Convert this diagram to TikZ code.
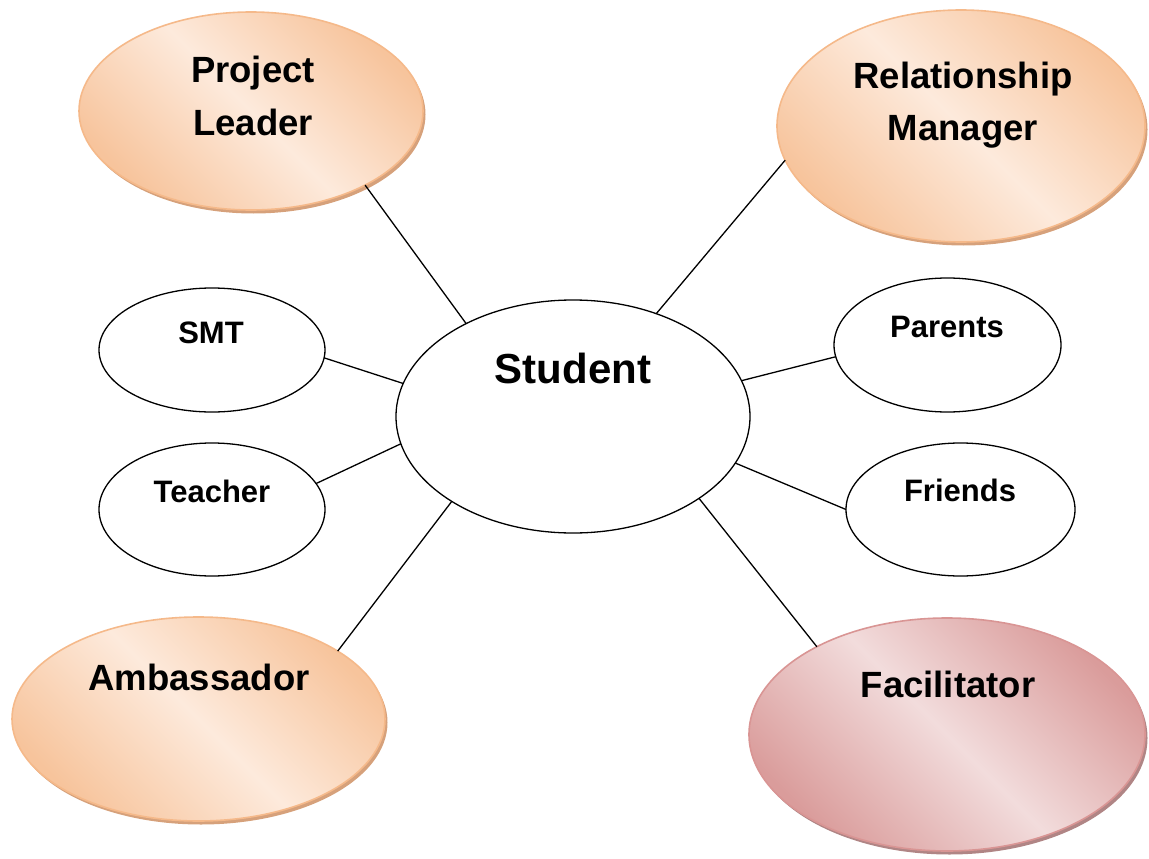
\documentclass[tikz,border=0pt]{standalone}
\usepackage{fontspec}
\setmainfont{Liberation Sans}
\usetikzlibrary{shapes.geometric,shadows}

\definecolor{orEdge}{HTML}{F7C49C}
\definecolor{orMid}{HTML}{FDEADC}
\definecolor{orBorder}{HTML}{F5B98A}
\definecolor{orShadow}{HTML}{D6A17B}
\definecolor{rsEdge}{HTML}{DA9C9B}
\definecolor{rsMid}{HTML}{F2DCDC}
\definecolor{rsBorder}{HTML}{D99594}
\definecolor{rsShadow}{HTML}{B08585}

\begin{document}
\begin{tikzpicture}[x=1pt,y=-1pt,
  oval/.style={ellipse, inner sep=0pt, outer sep=0pt},
  plainoval/.style={oval, draw=black, line width=1.3pt, fill=white},
  peach/.style={oval, draw=orBorder, line width=1.6pt,
    left color=orEdge, right color=orEdge, middle color=orMid, shading angle=-45,
    drop shadow={shadow xshift=2.5pt, shadow yshift=-3.5pt, fill=orShadow, opacity=1}},
  rose/.style={oval, draw=rsBorder, line width=1.6pt,
    left color=rsEdge, right color=rsEdge, middle color=rsMid, shading angle=-45,
    drop shadow={shadow xshift=2.5pt, shadow yshift=-3.5pt, fill=rsShadow, opacity=1}},
  bigtext/.style={font=\fontsize{36.5}{52}\selectfont\bfseries, align=center, anchor=base, inner sep=0pt},
  midtext/.style={font=\fontsize{42}{50}\selectfont\bfseries, anchor=base, inner sep=0pt},
  smalltext/.style={font=\fontsize{31}{37}\selectfont\bfseries, anchor=base, inner sep=0pt},
  link/.style={line width=1.3pt}
]
\useasboundingbox (0,0) rectangle (1149,859);

% role ovals
\node[peach, minimum width=344pt, minimum height=198pt] (pl) at (251,111) {};
\node[peach, minimum width=368pt, minimum height=232pt] (rm) at (961,126) {};
\node[peach, minimum width=373pt, minimum height=204pt] (amb) at (198.5,719) {};
\node[rose,  minimum width=396pt, minimum height=233pt] (fac) at (947,734.5) {};

% centre and people ovals
\node[plainoval, minimum width=354pt, minimum height=233pt] (st) at (573,416.5) {};
\node[plainoval, minimum width=226pt, minimum height=124pt] (smt) at (212,350) {};
\node[plainoval, minimum width=226pt, minimum height=133pt] (tch) at (212,509.5) {};
\node[plainoval, minimum width=227pt, minimum height=134pt] (par) at (947.5,345) {};
\node[plainoval, minimum width=229pt, minimum height=133pt] (fr) at (960.5,509.5) {};

% labels (base anchor sits on the last line)
\node[bigtext] (plT) at (253,135) {Project\\Leader};
\node[bigtext] (rmT) at (963,140) {Relationship\\Manager};
\node[bigtext] (ambT) at (199,690) {Ambassador};
\node[bigtext] (facT) at (948,697) {Facilitator};
\node[midtext] (stT) at (573,383) {Student};
\node[smalltext] (smtT) at (211,343) {SMT};
\node[smalltext] (tchT) at (212,502) {Teacher};
\node[smalltext] (parT) at (947,337) {Parents};
\node[smalltext] (frT) at (960,501) {Friends};

% connectors
\draw[link] (pl.-33) -- (st.139);
\draw[link] (rm.191) -- (st.51);
\draw[link] (smt.-4) -- (st.169);
\draw[link] (tch.14) -- (st.189);
\draw[link] (par.186.5) -- (st.12);
\draw[link] (fr.180.7) -- (st.-16.5);
\draw[link] (amb.26.6) -- (st.215);
\draw[link] (fac.146.8) -- (st.-33);
\end{tikzpicture}
\end{document}
